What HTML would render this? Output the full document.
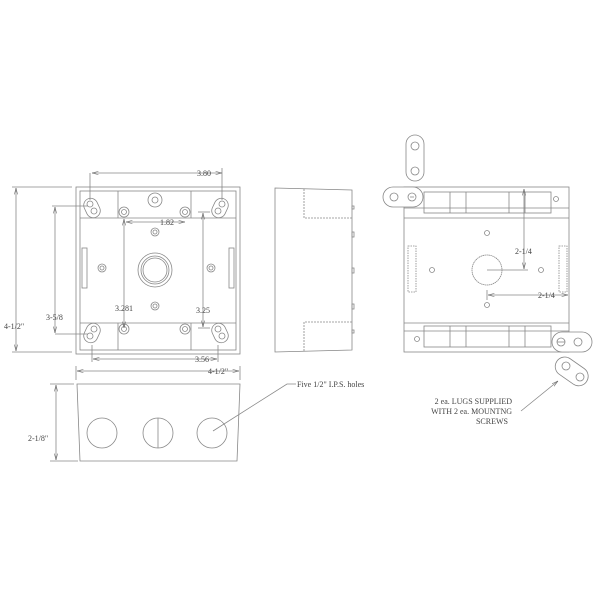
<!DOCTYPE html>
<html><head><style>html,body{margin:0;padding:0;background:#fff;}svg{display:block}</style></head>
<body>
<svg width="600" height="600" viewBox="0 0 600 600" xmlns="http://www.w3.org/2000/svg" font-family="Liberation Serif, serif" font-size="8" fill="none" stroke="#888" stroke-width="0.8">
<defs>
<marker id="a" markerWidth="8" markerHeight="6" refX="8" refY="3" orient="auto-start-reverse"><path d="M0,1 L8,3 L0,5" fill="none" stroke="#666" stroke-width="0.7"/></marker>
</defs>
<!-- FRONT VIEW -->
<rect x="76" y="187" width="164" height="167"/>
<rect x="80" y="191" width="156" height="159"/>
<line x1="80" y1="218" x2="236" y2="218"/>
<line x1="80" y1="323" x2="236" y2="323"/>
<line x1="118" y1="191" x2="118" y2="218"/><line x1="191" y1="191" x2="191" y2="218"/>
<line x1="118" y1="323" x2="118" y2="350"/><line x1="191" y1="323" x2="191" y2="350"/>
<g>
<rect x="85" y="198" width="14" height="20" rx="7" transform="rotate(-25 92 208)"/>
<circle cx="90" cy="204" r="3"/><circle cx="94" cy="211" r="3"/>
<rect x="213" y="198" width="14" height="20" rx="7" transform="rotate(25 220 208)"/>
<circle cx="222" cy="204" r="3"/><circle cx="218" cy="211" r="3"/>
<rect x="85" y="323" width="14" height="20" rx="7" transform="rotate(25 92 333)"/>
<circle cx="94" cy="329" r="3"/><circle cx="90" cy="336" r="3"/>
<rect x="213" y="323" width="14" height="20" rx="7" transform="rotate(-25 220 333)"/>
<circle cx="218" cy="329" r="3"/><circle cx="222" cy="336" r="3"/>
</g>
<circle cx="124" cy="212" r="5"/><circle cx="124" cy="212" r="2.5"/>
<circle cx="185" cy="212" r="5"/><circle cx="185" cy="212" r="2.5"/>
<circle cx="124" cy="329" r="5"/><circle cx="124" cy="329" r="2.5"/>
<circle cx="185" cy="329" r="5"/><circle cx="185" cy="329" r="2.5"/>
<circle cx="155" cy="200" r="7"/><circle cx="155" cy="200" r="3"/>
<circle cx="155" cy="270" r="17"/><circle cx="155" cy="270" r="14"/><circle cx="155" cy="270" r="12"/>
<circle cx="155" cy="232" r="4"/><circle cx="155" cy="232" r="2"/>
<circle cx="155" cy="306" r="4"/><circle cx="155" cy="306" r="2"/>
<circle cx="102" cy="268" r="4"/><circle cx="102" cy="268" r="2"/>
<circle cx="211" cy="268" r="4"/><circle cx="211" cy="268" r="2"/>
<rect x="82" y="248" width="5" height="40"/><rect x="229" y="248" width="5" height="40"/>
<!-- dims -->
<line x1="90" y1="173" x2="90" y2="200"/><line x1="222" y1="168" x2="222" y2="200"/>
<line x1="92" y1="173" x2="222" y2="173" marker-start="url(#a)" marker-end="url(#a)"/>
<text x="197" y="176" fill="#444" stroke="none">3.80</text>
<line x1="72" y1="187" x2="12" y2="187"/><line x1="72" y1="352" x2="12" y2="352"/>
<line x1="16" y1="188" x2="16" y2="351" marker-start="url(#a)" marker-end="url(#a)"/>
<text x="4" y="329" fill="#444" stroke="none">4-1/2"</text>
<line x1="52" y1="206" x2="88" y2="206"/><line x1="55" y1="334" x2="88" y2="334"/>
<line x1="55" y1="207" x2="55" y2="333" marker-start="url(#a)" marker-end="url(#a)"/>
<text x="46" y="320" fill="#444" stroke="none">3-5/8</text>
<line x1="126" y1="222" x2="185" y2="222" marker-start="url(#a)" marker-end="url(#a)"/>
<text x="160" y="225" fill="#444" stroke="none">1.82</text>
<line x1="124" y1="219" x2="124" y2="328" marker-start="url(#a)" marker-end="url(#a)"/>
<text x="115" y="311" fill="#444" stroke="none">3.281</text>
<line x1="198" y1="212" x2="210" y2="212"/><line x1="198" y1="328" x2="210" y2="328"/>
<line x1="203" y1="213" x2="203" y2="327" marker-start="url(#a)" marker-end="url(#a)"/>
<text x="196" y="313" fill="#444" stroke="none">3.25</text>
<line x1="92" y1="345" x2="92" y2="362"/><line x1="218" y1="345" x2="218" y2="362"/>
<line x1="93" y1="359" x2="217" y2="359" marker-start="url(#a)" marker-end="url(#a)"/>
<text x="195" y="362" fill="#444" stroke="none">3.56</text>
<line x1="76" y1="366" x2="76" y2="380"/><line x1="240" y1="366" x2="240" y2="380"/>
<line x1="77" y1="371" x2="239" y2="371" marker-start="url(#a)" marker-end="url(#a)"/>
<text x="208" y="374" fill="#444" stroke="none">4-1/2"</text>
<!-- BOTTOM SIDE VIEW -->
<path d="M77,384 L240,384 L237,461 L80,461 Z"/>
<circle cx="102" cy="433" r="15"/>
<circle cx="158" cy="433" r="15"/><line x1="158" y1="418" x2="158" y2="448"/>
<circle cx="212" cy="433" r="15"/>
<line x1="50" y1="384" x2="74" y2="384"/><line x1="50" y1="461" x2="78" y2="461"/>
<line x1="56" y1="385" x2="56" y2="460" marker-start="url(#a)" marker-end="url(#a)"/>
<text x="28" y="441" fill="#444" stroke="none">2-1/8"</text>
<polyline points="213,431 287,384 296,384"/>
<text x="297" y="387" fill="#444" stroke="none">Five 1/2" I.P.S. holes</text>
<!-- SIDE VIEW -->
<path d="M275,188 L352,190 L352,350 L275,352 Z"/>
<path d="M304,189 L304,218 L352,218" stroke-dasharray="2,1"/>
<path d="M304,351 L304,322 L352,322" stroke-dasharray="2,1"/>
<rect x="352" y="206" width="2" height="3"/><rect x="352" y="232" width="2" height="5"/>
<rect x="352" y="268" width="2" height="5"/><rect x="352" y="304" width="2" height="5"/><rect x="352" y="330" width="2" height="3"/>
<!-- RIGHT VIEW -->
<rect x="404" y="187" width="165" height="165"/>
<line x1="404" y1="208" x2="569" y2="208"/><line x1="404" y1="218" x2="569" y2="218"/>
<line x1="404" y1="323" x2="569" y2="323"/><line x1="404" y1="331" x2="569" y2="331"/>
<rect x="424" y="192" width="127" height="21"/><rect x="424" y="326" width="127" height="21"/>
<line x1="450" y1="192" x2="450" y2="213"/><line x1="466" y1="192" x2="466" y2="213"/><line x1="509" y1="192" x2="509" y2="213"/><line x1="525" y1="192" x2="525" y2="213"/>
<line x1="450" y1="326" x2="450" y2="347"/><line x1="466" y1="326" x2="466" y2="347"/><line x1="509" y1="326" x2="509" y2="347"/><line x1="525" y1="326" x2="525" y2="347"/>
<rect x="406" y="135" width="18" height="46" rx="9" fill="#fff"/>
<circle cx="415" cy="146" r="4"/><circle cx="415" cy="171" r="4"/>
<rect x="383" y="187" width="40" height="20" rx="10" fill="#fff"/>
<circle cx="394" cy="197" r="4"/><circle cx="412" cy="197" r="4"/><line x1="410" y1="197" x2="414" y2="197"/>
<rect x="552" y="332" width="40" height="20" rx="10" fill="#fff"/>
<circle cx="561" cy="342" r="4"/><line x1="557" y1="342" x2="565" y2="342"/><circle cx="578" cy="342" r="4"/>
<rect x="554" y="362" width="36" height="19" rx="9.5" transform="rotate(35 572 371)"/>
<circle cx="566" cy="366" r="4"/><circle cx="580" cy="377" r="4"/>
<circle cx="487" cy="270" r="15" stroke-dasharray="1.5,0.5"/>
<circle cx="487" cy="233" r="2.5"/><circle cx="487" cy="305" r="2.5"/>
<circle cx="432" cy="270" r="2.5"/><circle cx="541" cy="270" r="2.5"/>
<circle cx="556" cy="199" r="2.5"/><circle cx="417" cy="339" r="2.5"/>
<rect x="408" y="246" width="8" height="46" stroke-dasharray="1.5,1"/>
<rect x="559" y="246" width="8" height="46" stroke-dasharray="1.5,1"/>
<line x1="487" y1="270" x2="528" y2="270"/>
<line x1="524" y1="189" x2="524" y2="269" marker-start="url(#a)" marker-end="url(#a)"/>
<text x="515" y="254" fill="#444" stroke="none">2-1/4</text>
<line x1="487" y1="290" x2="487" y2="300"/>
<line x1="488" y1="295" x2="568" y2="295" marker-start="url(#a)" marker-end="url(#a)"/>
<text x="538" y="298" fill="#444" stroke="none">2-1/4</text>
<line x1="521" y1="411" x2="558" y2="381" marker-end="url(#a)"/>
<g fill="#444" stroke="none" text-anchor="end">
<text x="512" y="404">2 ea. LUGS SUPPLIED</text>
<text x="512" y="414">WITH 2 ea. MOUNTNG</text>
<text x="508" y="424">SCREWS</text>
</g>
</svg>
</body></html>
